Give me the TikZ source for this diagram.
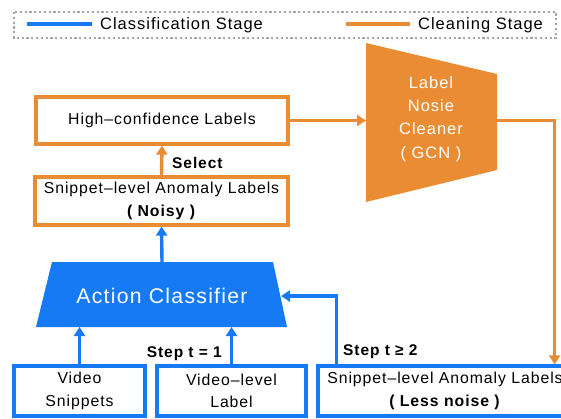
\documentclass[tikz,border=0pt]{standalone}
\usepackage{fontspec}
\setmainfont{Liberation Sans}[LetterSpace=6]
\usetikzlibrary{arrows.meta}
\definecolor{clsblue}{RGB}{22,122,245}
\definecolor{clnorange}{RGB}{233,140,52}
\definecolor{framegray}{RGB}{165,165,165}

\tikzset{
  bodyfont/.style={font=\fontsize{15.8}{22.5}\selectfont},
  box/.style={draw, line width=3.2pt, inner sep=0pt, align=center, bodyfont},
  obox/.style={box, draw=clnorange},
  bbox/.style={box, draw=clsblue},
  conn/.style={line width=3.4pt, -{Triangle[length=9pt,width=11pt]}},
  barrow/.style={conn, draw=clsblue},
  oarrow/.style={conn, draw=clnorange},
  steplabel/.style={inner sep=0pt, font=\fontsize{15.5}{18}\selectfont\bfseries},
  legendframe/.style={draw=framegray, line width=2.4pt, dash pattern=on 2.2pt off 2.6pt},
  legendtext/.style={inner sep=0pt, anchor=west, font=\fontsize{16.5}{19}\selectfont}
}

\begin{document}
\begin{tikzpicture}[x=1pt,y=-1pt]
\useasboundingbox (0,0) rectangle (561,418);

% legend
\draw[legendframe] (14,12) rectangle (556,38);
\draw[clsblue, line width=3.6pt] (27,24) -- (92,24);
\node[legendtext] (lgcls) at (100,25) {Classification Stage};
\draw[clnorange, line width=3.6pt] (346,24) -- (410,24);
\node[legendtext] (lgcln) at (418,25) {Cleaning Stage};

% label noise cleaner
\fill[clnorange] (366,43) -- (497,74) -- (497,170) -- (366,202) -- cycle;
\node[text=white, align=center, inner sep=0pt,
      font=\fontsize{16.5}{23.3}\selectfont] (lnc) at (431,119)
      {Label\\Nosie\\Cleaner\\( GCN )};
\coordinate (lncin) at (366,120.5);
\coordinate (lncout) at (497,120.5);

% action classifier
\fill[clsblue] (52,262) -- (273,262) -- (287,327) -- (36,327) -- cycle;
\node[text=white, inner sep=0pt, font=\fontsize{21.2}{24}\selectfont]
      (ac) at (162,296) {Action Classifier};
\coordinate (actop) at (162,262);
\coordinate (acvs) at (79.5,327);
\coordinate (acvl) at (231.5,327);
\coordinate (acin) at (281,296);

% label boxes
\node[obox, minimum width=252pt, minimum height=47pt] (hc) at (162,120.5)
      {High–confidence Labels};
\node[obox, minimum width=253pt, minimum height=48pt] (noisy) at (161.5,201)
      {Snippet–level Anomaly Labels\\\textbf{( Noisy )}};
\node[bbox, minimum width=131pt, minimum height=50pt] (vs) at (79.5,391)
      {Video\\Snippets};
\node[bbox, minimum width=149pt, minimum height=50pt] (vl) at (231.5,391)
      {Video–level\\Label};
\node[bbox, minimum width=254pt, minimum height=50pt] (ln) at (445,391)
      {Snippet–level Anomaly Labels\\\textbf{( Less noise )}};

% cleaning stage connectors
\draw[oarrow] (noisy.north) -- (hc.south);
\node[steplabel, anchor=west] (sel) at (172,163) {Select};
\draw[oarrow] (hc.east) -- (lncin);
\draw[oarrow] (lncout) -| ([xshift=-19pt]ln.north east);

% classification stage connectors
\draw[barrow] (actop) -- (noisy.south);
\draw[barrow] (vs.north) -- (acvs);
\draw[barrow] (vl.north) -- (acvl);
\node[steplabel, anchor=east] (st1) at (222,354) {Step t = 1};
\draw[barrow] ([xshift=20pt]ln.north west) |- (acin);
\node[steplabel, anchor=west] (st2) at (343,352) {Step t ≥ 2};
\end{tikzpicture}
\end{document}
